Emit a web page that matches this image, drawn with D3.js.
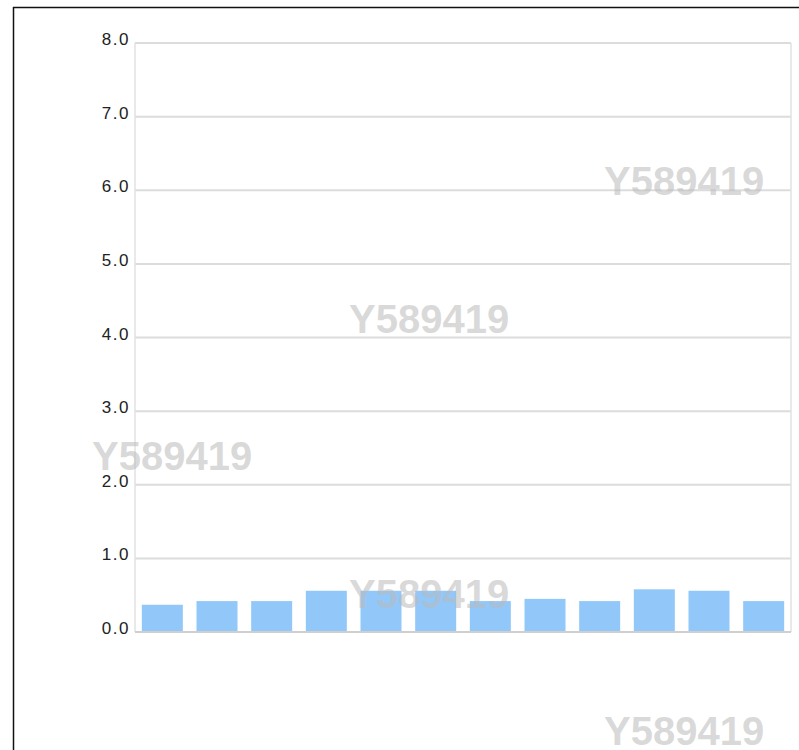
<!DOCTYPE html>
<html><head><meta charset="utf-8">
<script src="https://cdn.jsdelivr.net/npm/d3@7"></script>
<style>html,body{margin:0;padding:0;background:#fff;}svg{display:block;}</style>
</head><body>
<script>
const categories = ["1","2","3","4","5","6","7","8","9","10","11","12"];
const values = [0.37, 0.42, 0.42, 0.56, 0.56, 0.56, 0.42, 0.45, 0.42, 0.58, 0.56, 0.42];
const yTicks = [0,1,2,3,4,5,6,7,8];
const watermarkText = "Y589419";
const watermarks = [[604,195],[349,332.5],[92,470],[349,607.5],[604,745]];

(function(){
const W = 799, H = 750;
const svg = d3.select("body").append("svg").attr("width", W).attr("height", H);

// frame
svg.append("line").attr("x1",13).attr("x2",W).attr("y1",7.5).attr("y2",7.5).attr("stroke","#111").attr("stroke-width",1.5);
svg.append("line").attr("x1",13.5).attr("x2",13.5).attr("y1",7).attr("y2",H).attr("stroke","#111").attr("stroke-width",1.5);

const pL = 135, pR = 791, pT = 43, pB = 632;
const x = d3.scaleBand().domain(categories).range([pL,pR]).paddingInner(0.25).paddingOuter(0.125);
const y = d3.scaleLinear().domain([0,8]).range([pB, pT]);

// grid
svg.append("g").selectAll("line").data(yTicks.filter(d=>d>0)).join("line")
  .attr("x1",pL).attr("x2",pR)
  .attr("y1",d=>y(d)).attr("y2",d=>y(d))
  .attr("stroke","#dcdcdc").attr("stroke-width",2);
svg.append("line").attr("x1",pL).attr("x2",pL).attr("y1",pT).attr("y2",pB).attr("stroke","#e2e2e2").attr("stroke-width",1.5);
svg.append("line").attr("x1",pR).attr("x2",pR).attr("y1",pT).attr("y2",pB).attr("stroke","#e2e2e2").attr("stroke-width",1.5);

// bars
svg.append("g").selectAll("rect").data(values).join("rect")
  .attr("x",(d,i)=>x(categories[i]))
  .attr("width",x.bandwidth())
  .attr("y",d=>y(d))
  .attr("height",d=>y(0)-y(d))
  .attr("fill","#92c8f9");

// baseline
svg.append("line").attr("x1",pL).attr("x2",pR).attr("y1",y(0)).attr("y2",y(0)).attr("stroke","#cfcfcf").attr("stroke-width",2);

// y labels
svg.append("g").selectAll("text").data(yTicks).join("text")
  .attr("x",130).attr("y",d=>y(d)+2)
  .attr("text-anchor","end")
  .attr("font-family","Liberation Sans, Arial, sans-serif")
  .attr("font-size",17).attr("letter-spacing",1.5).attr("fill","#222")
  .text(d=>d3.format(".1f")(d));

// watermarks
svg.append("g").selectAll("text").data(watermarks).join("text")
  .attr("x",d=>d[0]).attr("y",d=>d[1])
  .attr("font-family","Liberation Sans, Arial, sans-serif")
  .attr("font-size",40).attr("font-weight","bold")
  .attr("fill","rgb(185,185,185)").attr("fill-opacity",0.55)
  .text(watermarkText);
})();
</script>
</body></html>
